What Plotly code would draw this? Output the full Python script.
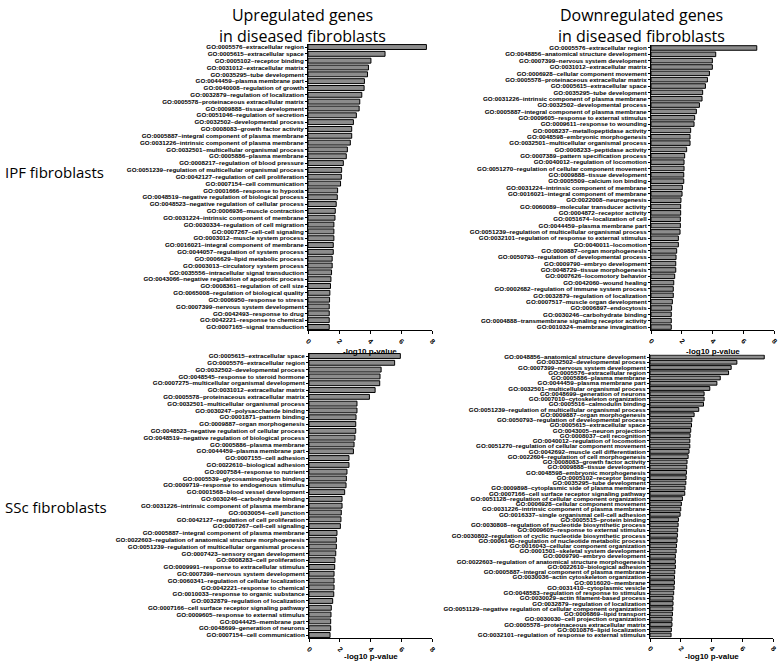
import plotly.graph_objects as go

# ---------------- DATA ----------------
ipf_up_terms = [
    "GO:0005576~extracellular region", "GO:0005615~extracellular space", "GO:0005102~receptor binding",
    "GO:0031012~extracellular matrix", "GO:0035295~tube development", "GO:0044459~plasma membrane part",
    "GO:0040008~regulation of growth", "GO:0032879~regulation of localization",
    "GO:0005578~proteinaceous extracellular matrix", "GO:0009888~tissue development",
    "GO:0051046~regulation of secretion", "GO:0032502~developmental process",
    "GO:0008083~growth factor activity", "GO:0005887~integral component of plasma membrane",
    "GO:0031226~intrinsic component of plasma membrane", "GO:0032501~multicellular organismal process",
    "GO:0005886~plasma membrane", "GO:0008217~regulation of blood pressure",
    "GO:0051239~regulation of multicellular organismal process", "GO:0042127~regulation of cell proliferation",
    "GO:0007154~cell communication", "GO:0001666~response to hypoxia",
    "GO:0048519~negative regulation of biological process", "GO:0048523~negative regulation of cellular process",
    "GO:0006936~muscle contraction", "GO:0031224~intrinsic component of membrane",
    "GO:0030334~regulation of cell migration", "GO:0007267~cell-cell signaling",
    "GO:0003012~muscle system process", "GO:0016021~integral component of membrane",
    "GO:0044057~regulation of system process", "GO:0006629~lipid metabolic process",
    "GO:0003013~circulatory system process", "GO:0035556~intracellular signal transduction",
    "GO:0043066~negative regulation of apoptotic process", "GO:0008361~regulation of cell size",
    "GO:0065008~regulation of biological quality", "GO:0006950~response to stress",
    "GO:0007399~nervous system development", "GO:0042493~response to drug",
    "GO:0042221~response to chemical", "GO:0007165~signal transduction",
]
ipf_up_vals = [7.64, 4.97, 4.06, 3.90, 3.84, 3.64, 3.62, 3.47, 3.34, 3.30, 3.12, 2.93, 2.82, 2.82,
               2.73, 2.54, 2.47, 2.28, 2.17, 2.15, 2.10, 1.91, 1.89, 1.82, 1.76, 1.74, 1.67, 1.67,
               1.67, 1.63, 1.63, 1.56, 1.56, 1.52, 1.48, 1.45, 1.41, 1.39, 1.37, 1.37, 1.37, 1.37]

ipf_down_terms = [
    "GO:0005576~extracellular region", "GO:0048856~anatomical structure development",
    "GO:0007399~nervous system development", "GO:0031012~extracellular matrix",
    "GO:0006928~cellular component movement", "GO:0005578~proteinaceous extracellular matrix",
    "GO:0005615~extracellular space", "GO:0035295~tube development",
    "GO:0031226~intrinsic component of plasma membrane", "GO:0032502~developmental process",
    "GO:0005887~integral component of plasma membrane", "GO:0009605~response to external stimulus",
    "GO:0009611~response to wounding", "GO:0008237~metallopeptidase activity",
    "GO:0048598~embryonic morphogenesis", "GO:0032501~multicellular organismal process",
    "GO:0008233~peptidase activity", "GO:0007389~pattern specification process",
    "GO:0040012~regulation of locomotion", "GO:0051270~regulation of cellular component movement",
    "GO:0009888~tissue development", "GO:0005509~calcium ion binding",
    "GO:0031224~intrinsic component of membrane", "GO:0016021~integral component of membrane",
    "GO:0022008~neurogenesis", "GO:0060089~molecular transducer activity",
    "GO:0004872~receptor activity", "GO:0051674~localization of cell",
    "GO:0044459~plasma membrane part", "GO:0051239~regulation of multicellular organismal process",
    "GO:0032101~regulation of response to external stimulus", "GO:0040011~locomotion",
    "GO:0009887~organ morphogenesis", "GO:0050793~regulation of developmental process",
    "GO:0009790~embryo development", "GO:0048729~tissue morphogenesis",
    "GO:0007626~locomotory behavior", "GO:0042060~wound healing",
    "GO:0002682~regulation of immune system process", "GO:0032879~regulation of localization",
    "GO:0007517~muscle organ development", "GO:0006897~endocytosis",
    "GO:0030246~carbohydrate binding", "GO:0004888~transmembrane signaling receptor activity",
    "GO:0010324~membrane invagination",
]
ipf_down_vals = [6.88, 4.21, 3.99, 3.99, 3.80, 3.67, 3.54, 3.36, 3.32, 3.15, 2.95, 2.84, 2.80, 2.58,
                 2.54, 2.54, 2.32, 2.19, 2.15, 2.15, 2.13, 2.13, 2.04, 2.02, 1.95, 1.93, 1.93, 1.91,
                 1.91, 1.89, 1.78, 1.78, 1.67, 1.63, 1.61, 1.61, 1.54, 1.48, 1.45, 1.45, 1.39, 1.34,
                 1.32, 1.32, 1.32]

ssc_up_terms = [
    "GO:0005615~extracellular space", "GO:0005576~extracellular region", "GO:0032502~developmental process",
    "GO:0048545~response to steroid hormone", "GO:0007275~multicellular organismal development",
    "GO:0031012~extracellular matrix", "GO:0005578~proteinaceous extracellular matrix",
    "GO:0032501~multicellular organismal process", "GO:0030247~polysaccharide binding",
    "GO:0001871~pattern binding", "GO:0009887~organ morphogenesis",
    "GO:0048523~negative regulation of cellular process", "GO:0048519~negative regulation of biological process",
    "GO:0005886~plasma membrane", "GO:0044459~plasma membrane part", "GO:0007155~cell adhesion",
    "GO:0022610~biological adhesion", "GO:0007584~response to nutrient",
    "GO:0005539~glycosaminoglycan binding", "GO:0009719~response to endogenous stimulus",
    "GO:0001568~blood vessel development", "GO:0030246~carbohydrate binding",
    "GO:0031226~intrinsic component of plasma membrane", "GO:0030054~cell junction",
    "GO:0042127~regulation of cell proliferation", "GO:0007267~cell-cell signaling",
    "GO:0005887~integral component of plasma membrane",
    "GO:0022603~regulation of anatomical structure morphogenesis",
    "GO:0051239~regulation of multicellular organismal process", "GO:0007423~sensory organ development",
    "GO:0008283~cell proliferation", "GO:0009991~response to extracellular stimulus",
    "GO:0007399~nervous system development", "GO:0060341~regulation of cellular localization",
    "GO:0042221~response to chemical", "GO:0010033~response to organic substance",
    "GO:0032879~regulation of localization", "GO:0007166~cell surface receptor signaling pathway",
    "GO:0009605~response to external stimulus", "GO:0044425~membrane part",
    "GO:0048699~generation of neurons", "GO:0007154~cell communication",
]
ssc_up_vals = [5.94, 5.57, 4.69, 4.62, 4.60, 4.30, 3.93, 3.12, 3.12, 3.06, 3.04, 3.04, 2.99, 2.93,
               2.89, 2.60, 2.60, 2.47, 2.43, 2.41, 2.32, 2.15, 2.15, 2.10, 2.08, 2.04, 1.82, 1.78,
               1.78, 1.74, 1.69, 1.67, 1.63, 1.63, 1.63, 1.61, 1.54, 1.45, 1.43, 1.41, 1.41, 1.37]

ssc_down_terms = [
    "GO:0048856~anatomical structure development", "GO:0032502~developmental process",
    "GO:0007399~nervous system development", "GO:0005576~extracellular region",
    "GO:0005886~plasma membrane", "GO:0044459~plasma membrane part",
    "GO:0032501~multicellular organismal process", "GO:0048699~generation of neurons",
    "GO:0007010~cytoskeleton organization", "GO:0005516~calmodulin binding",
    "GO:0051239~regulation of multicellular organismal process", "GO:0009887~organ morphogenesis",
    "GO:0050793~regulation of developmental process", "GO:0005615~extracellular space",
    "GO:0043005~neuron projection", "GO:0008037~cell recognition",
    "GO:0040012~regulation of locomotion", "GO:0051270~regulation of cellular component movement",
    "GO:0042692~muscle cell differentiation", "GO:0022604~regulation of cell morphogenesis",
    "GO:0008083~growth factor activity", "GO:0009888~tissue development",
    "GO:0048598~embryonic morphogenesis", "GO:0005102~receptor binding",
    "GO:0035295~tube development", "GO:0009898~cytoplasmic side of plasma membrane",
    "GO:0007166~cell surface receptor signaling pathway",
    "GO:0051128~regulation of cellular component organization",
    "GO:0006928~cellular component movement", "GO:0031226~intrinsic component of plasma membrane",
    "GO:0016337~single organismal cell-cell adhesion", "GO:0005515~protein binding",
    "GO:0030808~regulation of nucleotide biosynthetic process", "GO:0009605~response to external stimulus",
    "GO:0030802~regulation of cyclic nucleotide biosynthetic process",
    "GO:0006140~regulation of nucleotide metabolic process", "GO:0016043~cellular component organization",
    "GO:0001501~skeletal system development", "GO:0009790~embryo development",
    "GO:0022603~regulation of anatomical structure morphogenesis", "GO:0022610~biological adhesion",
    "GO:0005887~integral component of plasma membrane", "GO:0030036~actin cytoskeleton organization",
    "GO:0016020~membrane", "GO:0031410~cytoplasmic vesicle",
    "GO:0048583~regulation of response to stimulus", "GO:0030029~actin filament-based process",
    "GO:0032879~regulation of localization",
    "GO:0051129~negative regulation of cellular component organization", "GO:0006869~lipid transport",
    "GO:0030030~cell projection organization", "GO:0005578~proteinaceous extracellular matrix",
    "GO:0010876~lipid localization", "GO:0032101~regulation of response to external stimulus",
]
ssc_down_vals = [7.43, 5.65, 5.28, 5.11, 4.57, 4.35, 3.89, 3.52, 3.52, 3.48, 3.17, 2.87, 2.72, 2.70,
                 2.65, 2.61, 2.59, 2.59, 2.54, 2.48, 2.41, 2.39, 2.37, 2.35, 2.33, 2.28, 2.26, 2.11,
                 2.04, 2.00, 1.96, 1.85, 1.83, 1.80, 1.78, 1.76, 1.72, 1.70, 1.65, 1.65, 1.65, 1.61,
                 1.59, 1.59, 1.57, 1.54, 1.50, 1.50, 1.48, 1.46, 1.43, 1.43, 1.39, 1.37]

x_ticks = [0, 2, 4, 6, 8]
x_title = "-log10 p-value"
col_titles = ["Upregulated genes<br>in diseased fibroblasts", "Downregulated genes<br>in diseased fibroblasts"]
row_titles = ["IPF fibroblasts", "SSc fibroblasts"]

# ---------------- LAYOUT ----------------
W, H = 779, 665


def px(x):
    return x / W


def py(y):
    return 1 - y / H


LABEL_FONT = dict(family="Liberation Sans, Arial, sans-serif", size=6.25, color="black", weight="bold")
TITLE_FONT = dict(family="Open Sans, Noto Sans, sans-serif", size=16, color="black")

panels = [
    (ipf_up_terms, ipf_up_vals, (308, 432), (43.6, 330.4), 352),
    (ipf_down_terms, ipf_down_vals, (651, 774), (44.8, 330.2), 352),
    (ssc_up_terms, ssc_up_vals, (309, 432), (352.6, 638.4), 656),
    (ssc_down_terms, ssc_down_vals, (650, 773), (354.4, 637.6), 656),
]

fig = go.Figure()
annotations = []
for i, (terms, vals, (x0, x1), (y0, y1), ty) in enumerate(panels):
    n = "" if i == 0 else str(i + 1)
    fig.add_trace(go.Bar(
        x=vals, y=terms, orientation="h", xaxis="x" + n, yaxis="y" + n,
        width=0.72, showlegend=False,
        marker=dict(color="#8c8c8c", line=dict(color="black", width=1)),
    ))
    fig.layout["xaxis" + n] = dict(
        domain=[px(x0), px(x1)], anchor="y" + n, range=[0, 8], automargin=False,
        tickmode="array", tickvals=x_ticks, tickangle=45,
        showline=True, linecolor="black", linewidth=1,
        ticks="outside", ticklen=3, tickwidth=1, tickcolor="black",
        showgrid=False, zeroline=False,
        tickfont=dict(family="Liberation Sans, Arial, sans-serif", size=7, color="black", weight="bold"),
    )
    fig.layout["yaxis" + n] = dict(
        domain=[py(y1), py(y0)], anchor="x" + n, type="category", automargin=False,
        categoryorder="array", categoryarray=terms,
        range=[len(terms) - 0.5, -0.5],
        tickmode="array", tickvals=terms, ticktext=terms,
        showline=True, linecolor="black", linewidth=1,
        ticks="outside", ticklen=2, tickwidth=1, tickcolor="black",
        showgrid=False, zeroline=False, tickfont=LABEL_FONT,
    )
    annotations.append(dict(
        text=x_title, x=px((x0 + x1) / 2), y=py(ty), xref="paper", yref="paper",
        xanchor="center", yanchor="middle", showarrow=False,
        font=dict(family="Liberation Sans, Arial, sans-serif", size=8, color="black", weight="bold"),
    ))

for txt, cx in zip(col_titles, [302, 641]):
    annotations.append(dict(text=txt, x=px(cx), y=py(25), xref="paper", yref="paper",
                            xanchor="center", yanchor="middle", showarrow=False, font=TITLE_FONT))
for txt, cy in zip(row_titles, [172, 507]):
    annotations.append(dict(text=txt, x=px(3), y=py(cy), xref="paper", yref="paper",
                            xanchor="left", yanchor="middle", showarrow=False,
                            font=dict(family="Open Sans, Noto Sans, sans-serif", size=15, color="black")))

fig.update_layout(
    width=W, height=H, autosize=False,
    margin=dict(l=0, r=0, t=0, b=0, pad=0),
    paper_bgcolor="white", plot_bgcolor="white",
    bargap=0.28, annotations=annotations,
)

fig.write_html(
    "out.html",
    config={"displayModeBar": False},
    post_script="document.body.style.margin='0';document.body.style.overflow='hidden';",
)
